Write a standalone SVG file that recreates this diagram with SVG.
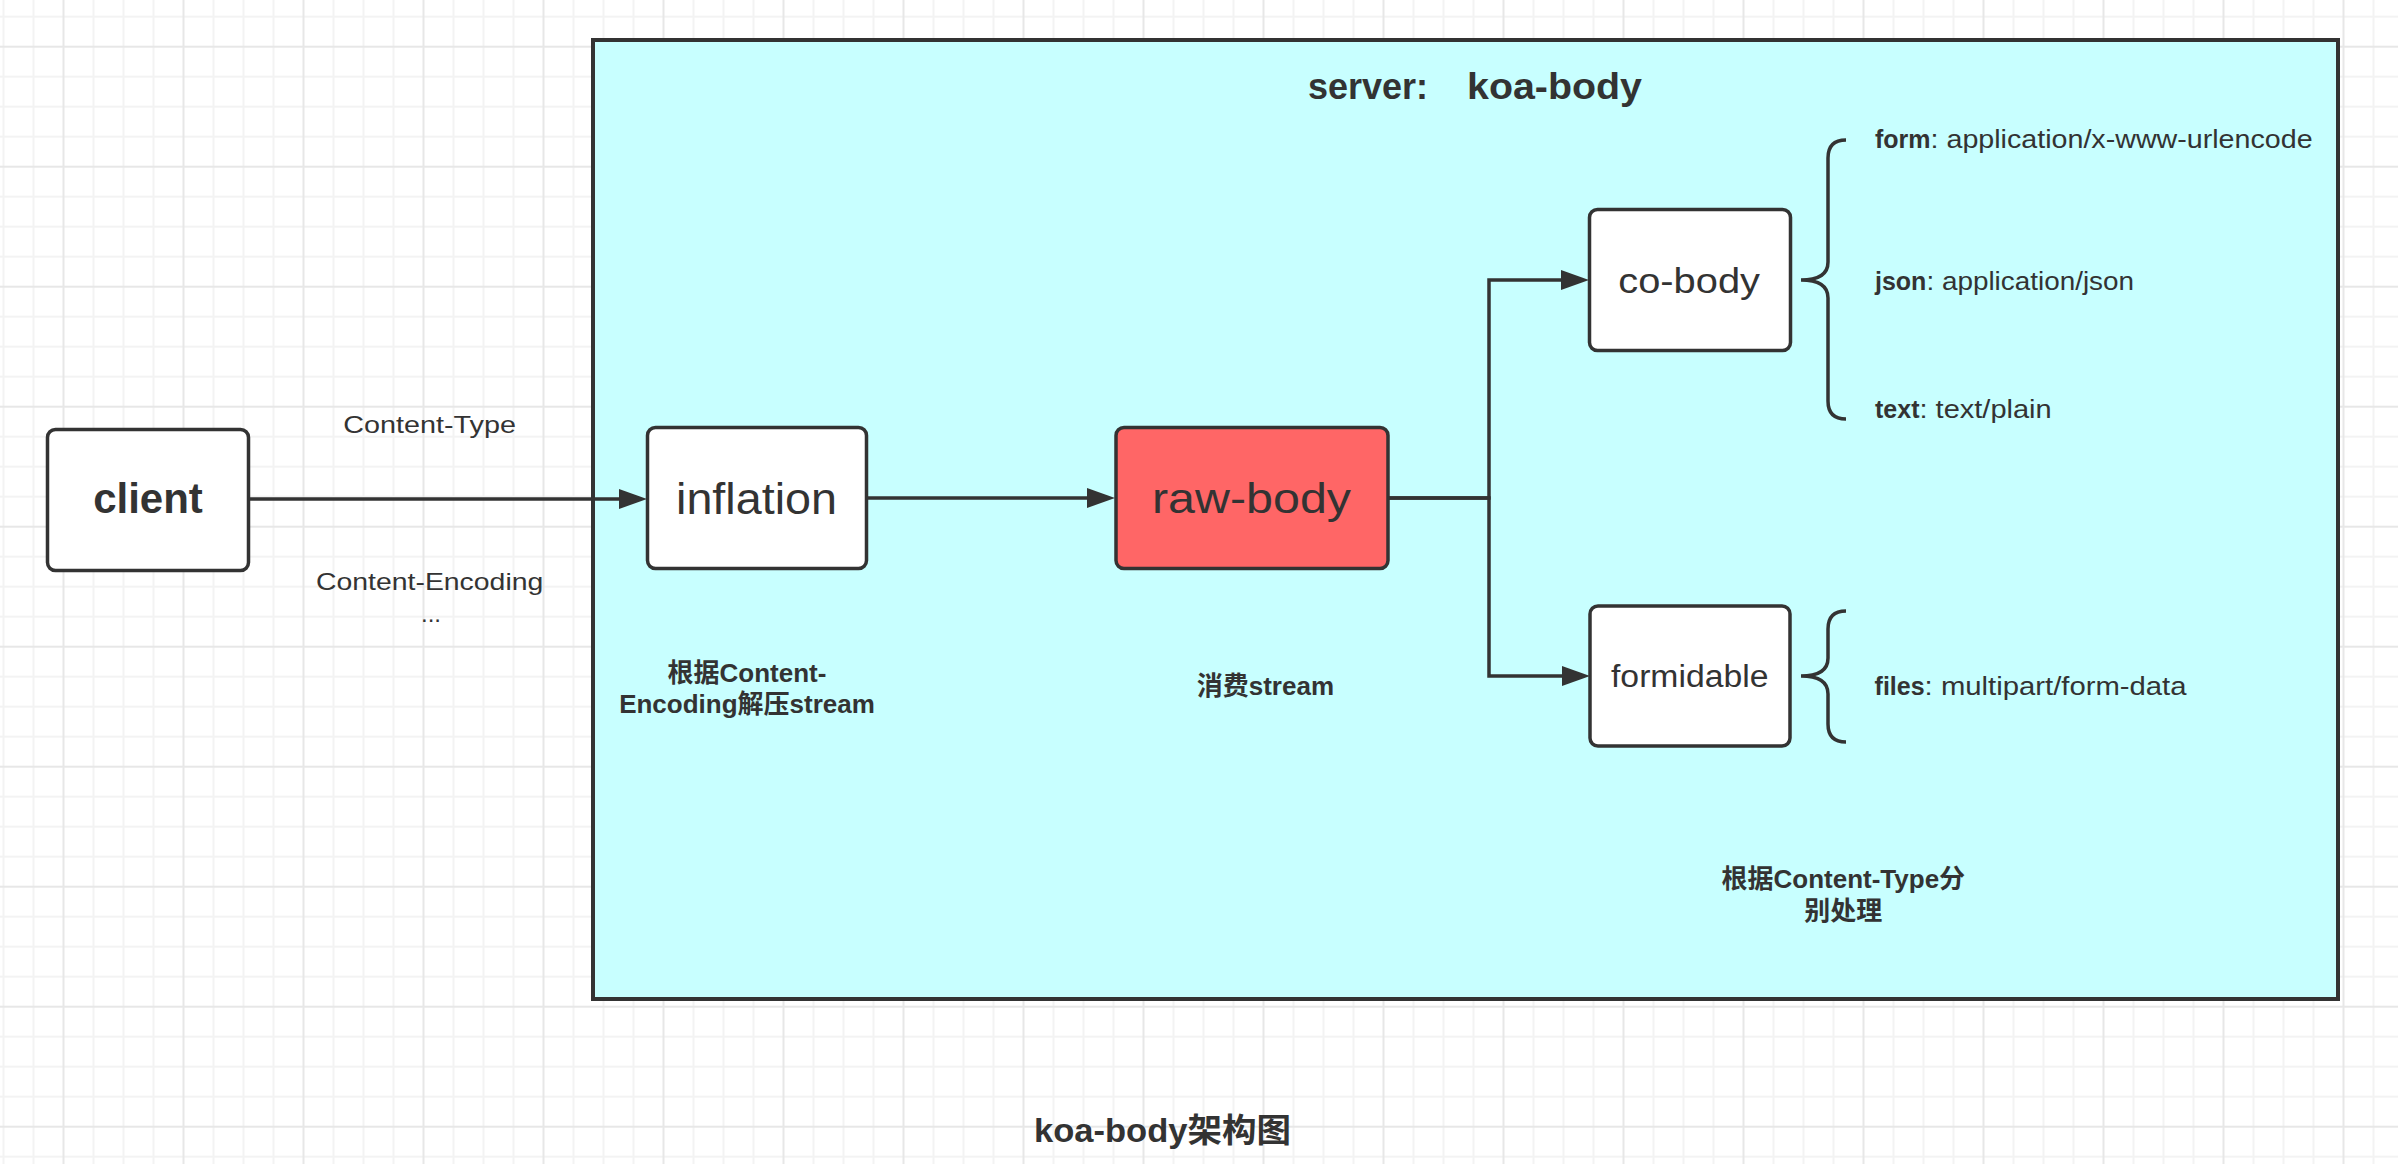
<svg xmlns="http://www.w3.org/2000/svg" width="2398" height="1164" viewBox="0 0 2398 1164">
  <style>
    text { font-family: "Liberation Sans", "Noto Sans CJK SC", sans-serif; fill: #333333; }
    .b { font-weight: bold; }
    .node { stroke: #333333; stroke-width: 3.5; }
    .white { fill: #ffffff; }
    .red { fill: #ff6666; }
    .conn { fill: none; stroke: #333333; stroke-width: 3.5; stroke-linejoin: miter; }
    .brace { fill: none; stroke: #333333; stroke-width: 3.5; stroke-linecap: butt; }
    .lbl { font-size: 24px; }
    .note { font-size: 26px; font-weight: bold; text-anchor: middle; }
    .item { font-size: 25px; }
  </style>
  <defs>
    <pattern id="grid" patternUnits="userSpaceOnUse" x="-11.5" y="-28.3" width="120" height="120">
      <path d="M15 0V120M45 0V120M105 0V120M0 15H120M0 45H120M0 105H120" stroke="#f3f3f3" stroke-width="2" fill="none"/>
      <path d="M75 0V120M0 75H120" stroke="#e7e7e7" stroke-width="2" fill="none"/>
    </pattern>
    <marker id="arr" markerUnits="userSpaceOnUse" markerWidth="28" markerHeight="20" viewBox="0 0 28 20" refX="22" refY="10" orient="auto">
      <path d="M0 0L28 10L0 20z" fill="#333333"/>
    </marker>
  </defs>

  <rect x="0" y="0" width="2398" height="1164" fill="#ffffff"/>
  <rect x="0" y="0" width="2398" height="1164" fill="url(#grid)"/>

  <g id="server">
    <rect x="593" y="40" width="1745" height="959" fill="#c8ffff" stroke="#333333" stroke-width="4"/>
    <text xml:space="preserve" class="b" font-size="36" y="99"><tspan x="1308">server:   </tspan><tspan x="1467" textLength="175" lengthAdjust="spacingAndGlyphs">koa-body</tspan></text>
  </g>

  <g id="client">
    <rect class="node white" x="47.5" y="429.5" width="201" height="141" rx="8"/>
    <text class="b" font-size="42" x="148" y="513.3" text-anchor="middle">client</text>
  </g>

  <g id="inflation">
    <rect class="node white" x="647.5" y="427.5" width="219" height="141" rx="8"/>
    <text font-size="44" x="676" y="514.3" textLength="161" lengthAdjust="spacingAndGlyphs">inflation</text>
  </g>

  <g id="raw-body">
    <rect class="node red" x="1116" y="427.5" width="272" height="141" rx="8"/>
    <text font-size="43" x="1152" y="513.3" textLength="199" lengthAdjust="spacingAndGlyphs">raw-body</text>
  </g>

  <g id="co-body">
    <rect class="node white" x="1589.5" y="209.5" width="201" height="141" rx="8"/>
    <text font-size="35" x="1618.3" y="293.3" textLength="141.7" lengthAdjust="spacingAndGlyphs">co-body</text>
  </g>

  <g id="formidable">
    <rect class="node white" x="1590" y="606" width="200" height="140" rx="8"/>
    <text font-size="31" x="1611" y="686.7" textLength="157.5" lengthAdjust="spacingAndGlyphs">formidable</text>
  </g>

  <g id="connectors">
    <path class="conn" d="M249 499H641" marker-end="url(#arr)"/>
    <path class="conn" d="M867 498H1109" marker-end="url(#arr)"/>
    <path class="conn" d="M1388 498H1489V280H1583" marker-end="url(#arr)"/>
    <path class="conn" d="M1388 498H1489V676H1584" marker-end="url(#arr)"/>
  </g>

  <g id="header-labels">
    <text class="lbl" x="343.3" y="433.3" textLength="172.7" lengthAdjust="spacingAndGlyphs">Content-Type</text>
    <text class="lbl" x="316" y="590" textLength="227.3" lengthAdjust="spacingAndGlyphs">Content-Encoding</text>
    <text class="lbl" x="421" y="621.7">...</text>
  </g>

  <g id="inflation-note">
    <text class="note" x="747" y="681.7">根据Content-</text>
    <text class="note" x="747" y="713.3">Encoding解压stream</text>
  </g>

  <g id="raw-body-note">
    <text class="note" x="1265.4" y="695">消费stream</text>
  </g>

  <g id="type-note">
    <text class="note" x="1843.3" y="888.3">根据Content-Type分</text>
    <text class="note" x="1843.3" y="920">别处理</text>
  </g>

  <g id="co-body-brace">
    <path class="brace" d="M1846 140Q1828 140 1828 158V262Q1828 280 1801 280Q1828 280 1828 298V401Q1828 419 1846 419"/>
    <text class="item" x="1875" y="148"><tspan class="b">form</tspan><tspan textLength="382" lengthAdjust="spacingAndGlyphs">: application/x-www-urlencode</tspan></text>
    <text class="item" x="1875" y="290"><tspan class="b">json</tspan><tspan textLength="207.6" lengthAdjust="spacingAndGlyphs">: application/json</tspan></text>
    <text class="item" x="1875" y="418.3"><tspan class="b">text</tspan><tspan textLength="132.2" lengthAdjust="spacingAndGlyphs">: text/plain</tspan></text>
  </g>

  <g id="formidable-brace">
    <path class="brace" d="M1846 611Q1828 611 1828 629V658Q1828 676 1801 676Q1828 676 1828 694V724Q1828 742 1846 742"/>
    <text class="item" x="1874.6" y="695"><tspan class="b">files</tspan><tspan textLength="261.9" lengthAdjust="spacingAndGlyphs">: multipart/form-data</tspan></text>
  </g>

  <g id="caption">
    <text class="b" font-size="33" x="1034" y="1141.7" textLength="257" lengthAdjust="spacingAndGlyphs">koa-body架构图</text>
  </g>
</svg>
